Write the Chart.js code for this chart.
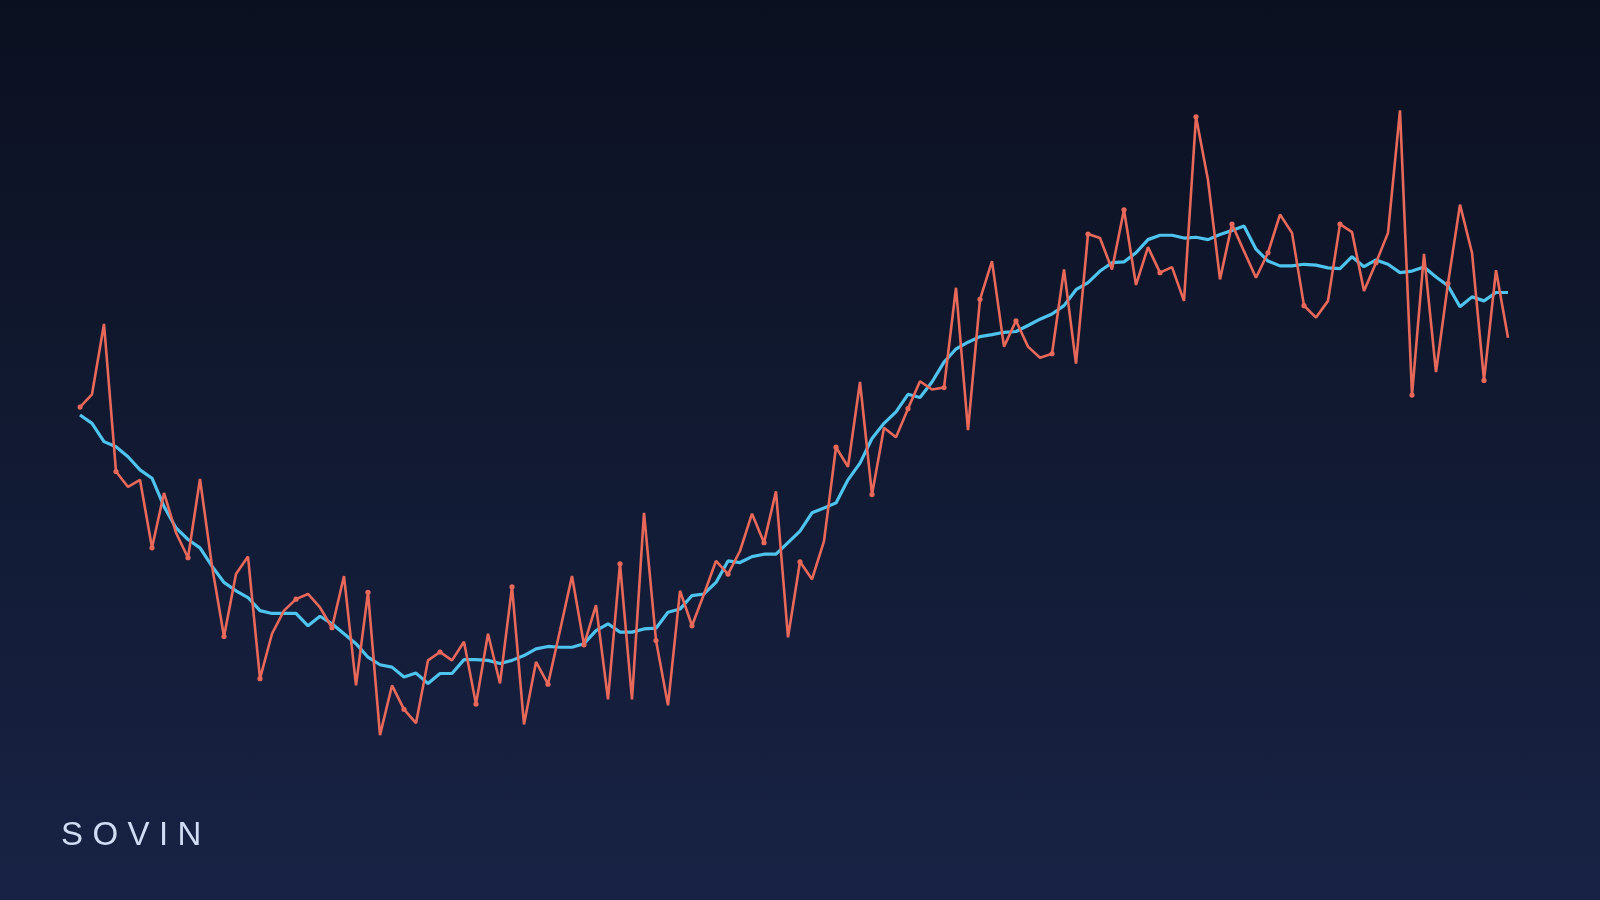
<!DOCTYPE html>
<html>
<head>
<meta charset="utf-8">
<title>SOVIN</title>
<script src="https://cdn.jsdelivr.net/npm/chart.js@4.4.0/dist/chart.umd.min.js"></script>
<style>
  html, body {
    margin: 0;
    padding: 0;
    width: 1600px;
    height: 900px;
    overflow: hidden;
    background: linear-gradient(to bottom, #0b1020 0%, #111a32 50%, #182244 100%);
  }
  #wrap {
    position: relative;
    width: 1600px;
    height: 900px;
  }
  #brand {
    position: absolute;
    left: 61px;
    top: 814px;
    font-family: "Liberation Sans", Arial, sans-serif;
    font-size: 33px;
    letter-spacing: 9.4px;
    color: #cfdcf3;
    line-height: 40px;
  }
</style>
</head>
<body>
<div id="wrap">
  <canvas id="chart" width="1600" height="900"></canvas>
  <div id="brand">SOVIN</div>
</div>
<script>
// raw series
const priceValues = [
  123.3, 126.5, 144.2, 107.1, 103.2, 105.0, 87.9, 101.7, 91.7, 85.4,
  105.2, 83.3, 65.6, 81.3, 85.7, 55.0, 66.3, 72.1, 75.0, 76.3,
  72.9, 67.8, 80.8, 53.3, 76.7, 40.8, 53.3, 47.3, 43.8, 59.6,
  61.7, 59.6, 64.3, 48.6, 66.3, 53.8, 78.1, 43.5, 59.2, 53.6,
  67.1, 80.8, 63.5, 73.5, 49.8, 83.9, 49.8, 96.7, 64.6, 48.3,
  77.1, 68.3, 76.3, 84.6, 81.3, 87.1, 96.5, 89.2, 102.1, 65.4,
  84.4, 80.0, 89.6, 113.2, 108.3, 129.6, 101.3, 118.1, 115.7, 122.9,
  129.8, 127.7, 128.2, 153.3, 117.5, 150.4, 160.0, 138.5, 145.0, 138.5,
  135.7, 136.7, 157.9, 134.2, 166.8, 165.8, 157.9, 172.9, 154.0, 163.5,
  157.1, 158.5, 150.0, 196.3, 180.4, 155.4, 169.3, 162.5, 155.8, 162.1,
  171.7, 167.1, 148.8, 145.8, 150.0, 169.3, 167.3, 152.5, 159.6, 167.1,
  197.9, 126.3, 161.8, 132.1, 154.4, 174.2, 162.1, 130.0, 157.7, 140.7
];

// smoothed trend line
const trendValues = [
  121.3, 119.2, 114.6, 113.3, 110.8, 107.5, 105.4, 98.3, 92.9, 90.0,
  87.9, 83.3, 79.2, 77.1, 75.4, 72.1, 71.4, 71.4, 71.4, 68.3,
  70.7, 68.8, 66.3, 63.8, 60.4, 58.5, 57.9, 55.4, 56.4, 53.8,
  56.3, 56.3, 59.8, 59.8, 59.6, 58.8, 59.6, 60.8, 62.5, 63.1,
  62.9, 62.9, 63.8, 67.1, 68.8, 66.7, 66.7, 67.5, 67.7, 71.7,
  72.5, 75.9, 76.3, 79.2, 84.6, 84.2, 85.7, 86.3, 86.3, 89.2,
  92.1, 96.7, 97.9, 99.2, 105.0, 109.2, 115.4, 119.2, 122.1, 126.5,
  125.7, 129.6, 134.6, 137.9, 139.6, 141.0, 141.5, 142.1, 142.3, 143.8,
  145.4, 146.7, 148.8, 152.8, 154.6, 157.5, 159.6, 159.8, 162.1, 165.4,
  166.5, 166.5, 165.8, 166.0, 165.4, 166.7, 167.7, 168.8, 163.0, 160.0,
  158.8, 158.8, 159.2, 159.0, 158.3, 158.1, 161.1, 158.6, 160.3, 159.2,
  157.1, 157.5, 158.5, 156.0, 153.8, 148.5, 151.0, 150.0, 152.1, 152.1
];

const labels = priceValues.map((_, i) => i + 1);

const ctx = document.getElementById('chart').getContext('2d');

new Chart(ctx, {
  type: 'line',
  data: {
    labels: labels,
    datasets: [
      {
        label: 'Price',
        data: priceValues,
        borderColor: '#e8695a',
        backgroundColor: '#e8695a',
        borderWidth: 2.6,
        borderJoinStyle: 'bevel',
        tension: 0,
        pointRadius: c => (c.dataIndex % 3 === 0 ? 2.6 : 0),
        pointBorderWidth: 0,
        pointHoverRadius: 0,
        order: 0
      },
      {
        label: 'Trend',
        data: trendValues,
        borderColor: '#4ec3ee',
        backgroundColor: '#4ec3ee',
        borderWidth: 3.2,
        borderJoinStyle: 'bevel',
        tension: 0,
        pointRadius: 0,
        pointHoverRadius: 0,
        order: 1
      }
    ]
  },
  options: {
    responsive: false,
    animation: false,
    layout: {
      padding: { left: 80, right: 92, top: 0, bottom: 0 }
    },
    plugins: {
      legend: { display: false },
      tooltip: { enabled: false }
    },
    scales: {
      x: {
        display: false,
        offset: false
      },
      y: {
        display: false,
        min: 0,
        max: 225
      }
    }
  }
});
</script>
</body>
</html>
